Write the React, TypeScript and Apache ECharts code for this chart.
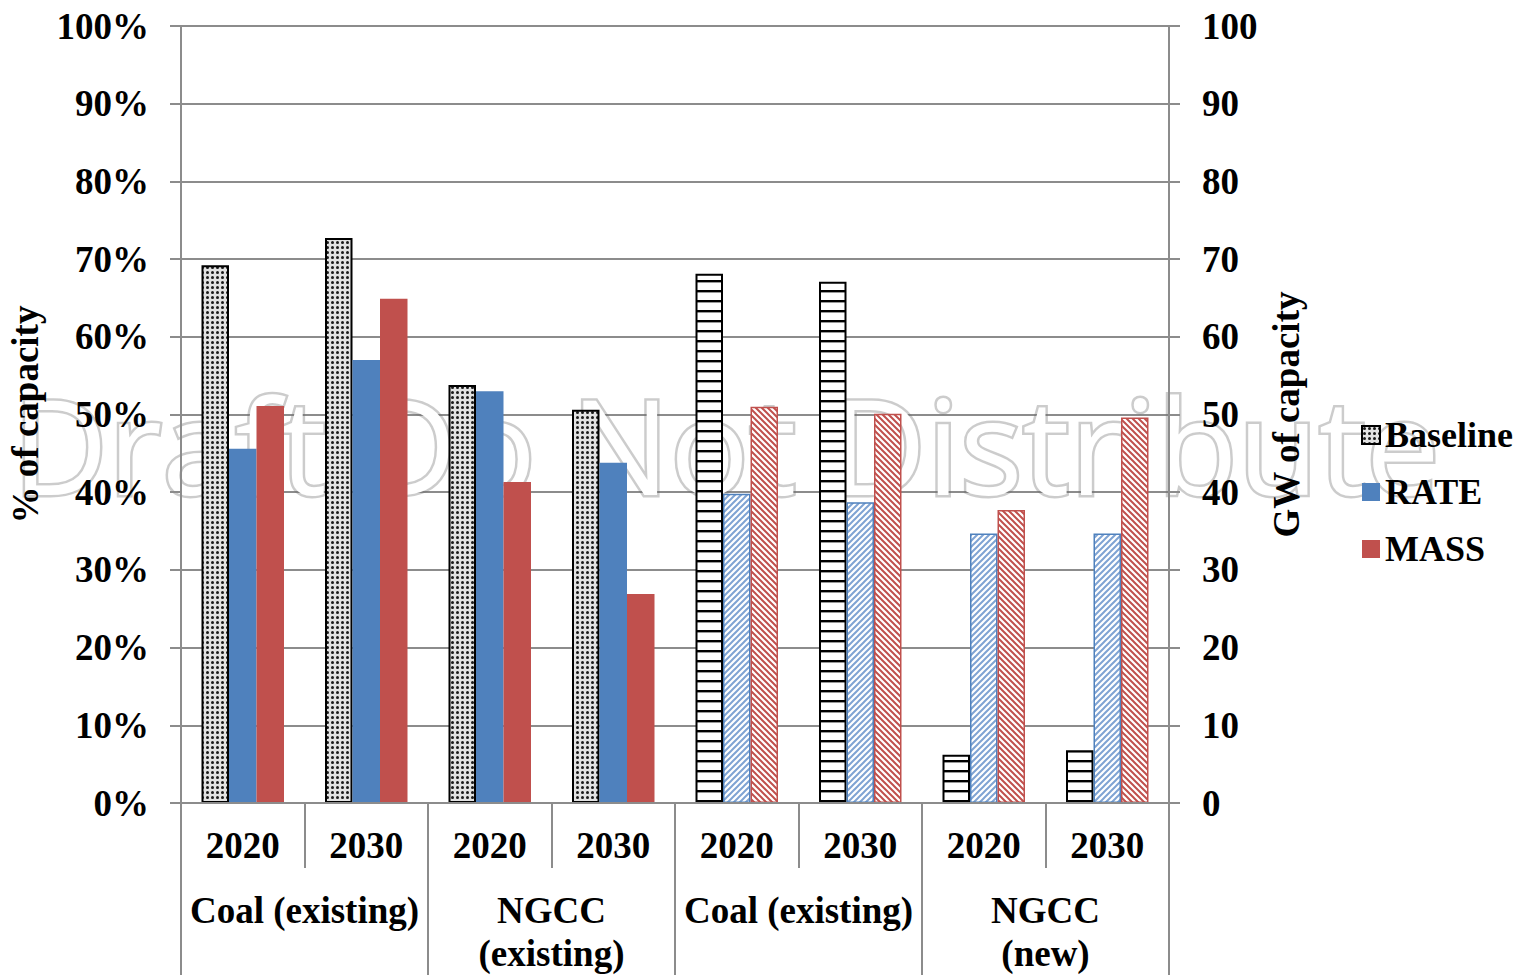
import React, { useEffect, useRef } from "react";
import * as echarts from "echarts";

const categories = ["2020", "2030", "2020", "2030", "2020", "2030", "2020", "2030"];
const groups = ["Coal (existing)", "NGCC\n(existing)", "Coal (existing)", "NGCC\n(new)"];
const seriesNames = ["Baseline", "RATE", "MASS"];
// left axis (% of capacity) for first four categories
const baselinePct = [69.2, 72.7, 53.8, 50.6];
const ratePct = [45.6, 57.0, 53.0, 43.8];
const massPct = [51.1, 64.9, 41.3, 26.9];
// right axis (GW of capacity) for last four categories
const baselineGW = [68.1, 67.1, 6.2, 6.8];
const rateGW = [39.8, 38.7, 34.7, 34.7];
const massGW = [51.0, 50.1, 37.7, 49.6];

const WATERMARK = "Draft Do Not Distribute";

const BLUE = "#4F81BD";
const RED = "#C0504D";
const GRAY = "#8c8c8c";
const FONT = "'Liberation Serif', 'Times New Roman', serif";

function makeCanvas(w: number, h: number, draw: (ctx: CanvasRenderingContext2D) => void) {
  const c = document.createElement("canvas");
  c.width = w;
  c.height = h;
  const ctx = c.getContext("2d") as CanvasRenderingContext2D;
  draw(ctx);
  return c;
}

export default function App() {
  const ref = useRef<HTMLDivElement>(null);
  useEffect(() => {
    if (!ref.current) return;
    const chart = echarts.init(ref.current, null, { renderer: "svg" });

    const stipple = makeCanvas(5, 5, (ctx) => {
      ctx.fillStyle = "#e2e2e2";
      ctx.fillRect(0, 0, 5, 5);
      ctx.fillStyle = "#1a1a1a";
      ctx.beginPath();
      ctx.arc(2.5, 2.5, 1.5, 0, Math.PI * 2);
      ctx.fill();
    });
    const stripes = makeCanvas(4, 10, (ctx) => {
      ctx.fillStyle = "#fff";
      ctx.fillRect(0, 0, 4, 10);
      ctx.fillStyle = "#000";
      ctx.fillRect(0, 0, 4, 2);
      ctx.fillStyle = "#999";
      ctx.fillRect(0, 2, 4, 1);
    });
    const hatch = (color: string, forward: boolean) =>
      makeCanvas(6, 6, (ctx) => {
        ctx.fillStyle = "#fff";
        ctx.fillRect(0, 0, 6, 6);
        ctx.strokeStyle = color;
        ctx.lineWidth = 2;
        ctx.beginPath();
        if (forward) {
          ctx.moveTo(0, 6); ctx.lineTo(6, 0);
          ctx.moveTo(-1, 1); ctx.lineTo(1, -1);
          ctx.moveTo(5, 7); ctx.lineTo(7, 5);
        } else {
          ctx.moveTo(0, 0); ctx.lineTo(6, 6);
          ctx.moveTo(-1, 5); ctx.lineTo(1, 7);
          ctx.moveTo(5, -1); ctx.lineTo(7, 1);
        }
        ctx.stroke();
      });
    const blueHatch = hatch("#7fa3d3", true);
    const redHatch = hatch(RED, false);

    const pat = (img: HTMLCanvasElement) => ({ image: img, repeat: "repeat" });

    const baseData = [
      ...baselinePct.map((v) => ({ value: v })),
      ...baselineGW.map((v) => ({ value: v, itemStyle: { color: pat(stripes), borderColor: "#000", borderWidth: 2 } })),
    ];
    const rateData = [
      ...ratePct.map((v) => ({ value: v })),
      ...rateGW.map((v) => ({ value: v, itemStyle: { color: pat(blueHatch), borderColor: BLUE, borderWidth: 1.5 } })),
    ];
    const massData = [
      ...massPct.map((v) => ({ value: v })),
      ...massGW.map((v) => ({ value: v, itemStyle: { color: pat(redHatch), borderColor: RED, borderWidth: 1.5 } })),
    ];

    const labelStyle = { fontFamily: FONT, fontWeight: "bold", fontSize: 37, color: "#000" };
    const nameStyle = { fontFamily: FONT, fontWeight: "bold", fontSize: 37, color: "#000" };
    const axisLine = { show: true, lineStyle: { color: GRAY, width: 2 } };

    chart.setOption({
      animation: false,
      grid: { left: 181, right: 351, top: 26, bottom: 172, containLabel: false, outerBoundsMode: "none" },
      legend: {
        data: seriesNames,
        orient: "vertical",
        left: 1356,
        top: 412,
        itemWidth: 18,
        itemHeight: 18,
        itemGap: 21,
        icon: "rect",
        textStyle: { fontFamily: FONT, fontWeight: "bold", fontSize: 36, color: "#000" },
      },
      xAxis: [
        {
          type: "category",
          data: categories,
          position: "bottom",
          axisLine,
          axisTick: { show: true, length: 65, interval: 0, lineStyle: { color: GRAY, width: 2 } },
          axisLabel: { ...labelStyle, interval: 0, margin: 24 },
          z: 3,
        },
        {
          type: "category",
          data: groups,
          position: "bottom",
          axisLine: { show: false },
          axisTick: { show: true, length: 172, interval: 0, lineStyle: { color: GRAY, width: 2 } },
          axisLabel: { ...labelStyle, interval: 0, margin: 86, lineHeight: 43 },
          z: 3,
        },
      ],
      yAxis: [
        {
          type: "value",
          min: 0,
          max: 100,
          interval: 10,
          position: "left",
          axisLine,
          axisTick: { show: true, length: 11, lineStyle: { color: GRAY, width: 2 } },
          axisLabel: { ...labelStyle, margin: 32, formatter: "{value}%" },
          splitLine: { show: false },
          name: "% of capacity",
          nameLocation: "middle",
          nameRotate: 90,
          nameGap: 137,
          nameTextStyle: nameStyle,
          z: 3,
        },
        {
          type: "value",
          min: 0,
          max: 100,
          interval: 10,
          position: "right",
          axisLine,
          axisTick: { show: true, length: 11, lineStyle: { color: GRAY, width: 2 } },
          axisLabel: { ...labelStyle, margin: 33 },
          splitLine: { show: false },
          name: "GW of capacity",
          nameLocation: "middle",
          nameRotate: 90,
          nameGap: 99,
          nameTextStyle: nameStyle,
          z: 3,
        },
        {
          type: "value",
          min: 0,
          max: 100,
          interval: 10,
          position: "left",
          axisLine: { show: false },
          axisTick: { show: false },
          axisLabel: { show: false },
          splitLine: { show: true, lineStyle: { color: GRAY, width: 2 } },
          z: 0,
        },
      ],
      graphic: [
        {
          type: "text",
          x: 726,
          y: 444,
          z: 1,
          silent: true,
          style: {
            text: WATERMARK,
            font: "normal 132px 'Open Sans', 'Liberation Sans', sans-serif",
            fill: "#ffffff",
            stroke: "rgba(110,110,110,0.35)",
            lineWidth: 5,
            strokeFirst: true,
            align: "center",
            verticalAlign: "middle",
          },
        },
      ],
      series: [
        {
          name: "Baseline",
          type: "bar",
          yAxisIndex: 0,
          barWidth: 27.5,
          barGap: "0%",
          itemStyle: { color: pat(stipple), borderColor: "#000", borderWidth: 2 },
          data: baseData,
        },
        {
          name: "RATE",
          type: "bar",
          yAxisIndex: 0,
          barWidth: 27.5,
          barGap: "0%",
          itemStyle: { color: BLUE },
          data: rateData,
        },
        {
          name: "MASS",
          type: "bar",
          yAxisIndex: 0,
          barWidth: 27.5,
          barGap: "0%",
          itemStyle: { color: RED },
          data: massData,
        },
      ],
    });
    return () => chart.dispose();
  }, []);
  return <div ref={ref} style={{ position: "absolute", left: 0, top: 0, width: 1520, height: 975 }} />;
}
